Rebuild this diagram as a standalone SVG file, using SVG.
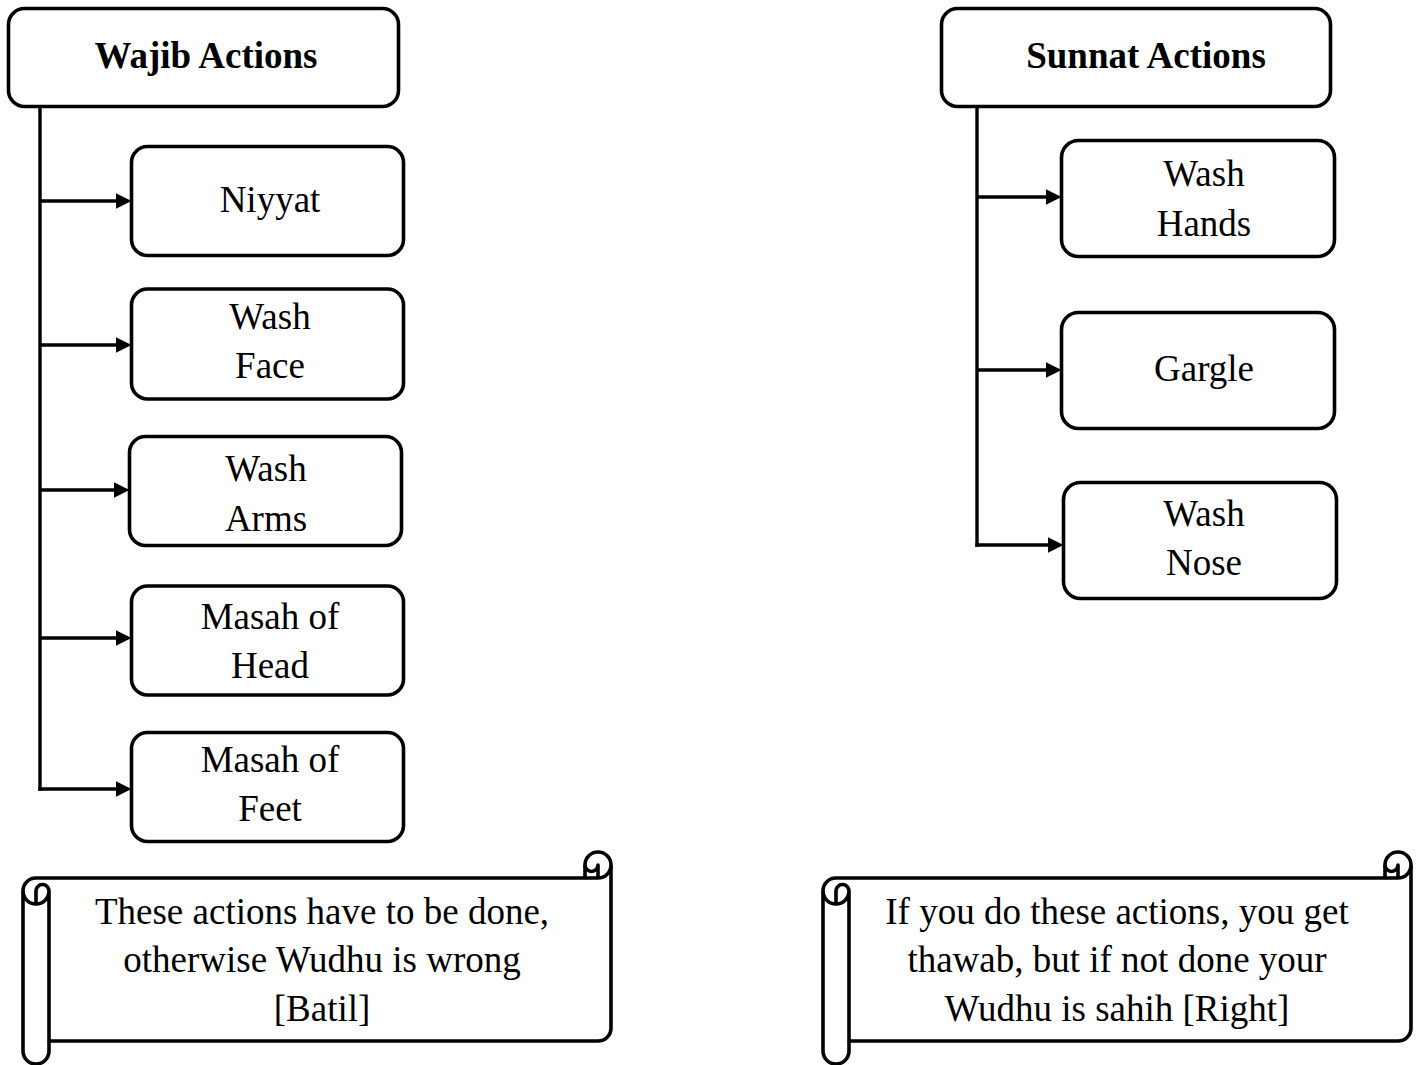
<svg xmlns="http://www.w3.org/2000/svg" width="1421" height="1065" viewBox="0 0 1421 1065">
<defs>
<style>
.box{fill:#fff;stroke:#000;stroke-width:3.6}
.t{font-family:"Liberation Serif","Times New Roman",serif;font-size:37px;fill:#000;text-anchor:middle}
.b{font-weight:bold}
.con{stroke:#000;stroke-width:3.4;fill:none}
.scroll{fill:#fff;stroke:#000;stroke-width:3.6;stroke-linejoin:round}
.sd{fill:none;stroke:#000;stroke-width:3.6;stroke-linejoin:round}
</style>
<marker id="ah" markerUnits="userSpaceOnUse" markerWidth="18" markerHeight="18" viewBox="0 0 18 18" refX="5" refY="8" orient="auto">
<path d="M0,0 L16,8 L0,16 Z" fill="#000"/>
</marker>
</defs>
<rect width="1421" height="1065" fill="#fff"/>

<g id="connectors">
<path class="con" d="M40,106.5 V790.7"/>
<path class="con" d="M40,201 H120.5" marker-end="url(#ah)"/>
<path class="con" d="M40,345 H120.5" marker-end="url(#ah)"/>
<path class="con" d="M40,490 H118.5" marker-end="url(#ah)"/>
<path class="con" d="M40,638 H120.5" marker-end="url(#ah)"/>
<path class="con" d="M38.3,789 H120.5" marker-end="url(#ah)"/>
<path class="con" d="M977,106.5 V546.7"/>
<path class="con" d="M977,197 H1050.5" marker-end="url(#ah)"/>
<path class="con" d="M977,370 H1050.5" marker-end="url(#ah)"/>
<path class="con" d="M975.3,545 H1052.5" marker-end="url(#ah)"/>
</g>

<g id="wajib">
<rect class="box" x="8.5" y="8.5" width="390" height="98" rx="16"/>
<text class="t b" x="206" y="68">Wajib Actions</text>
</g>
<g id="niyyat">
<rect class="box" x="131.5" y="146.5" width="272" height="109" rx="16"/>
<text class="t" x="270" y="212">Niyyat</text>
</g>
<g id="wash-face">
<rect class="box" x="131.5" y="289" width="272" height="110" rx="16"/>
<text class="t" x="270" y="329">Wash</text>
<text class="t" x="270" y="378">Face</text>
</g>
<g id="wash-arms">
<rect class="box" x="129.5" y="436.5" width="272" height="109" rx="16"/>
<text class="t" x="266" y="481">Wash</text>
<text class="t" x="266" y="531">Arms</text>
</g>
<g id="masah-head">
<rect class="box" x="131.5" y="586" width="272" height="109" rx="16"/>
<text class="t" x="270" y="629">Masah of</text>
<text class="t" x="270" y="678">Head</text>
</g>
<g id="masah-feet">
<rect class="box" x="131.5" y="732.5" width="272" height="109" rx="16"/>
<text class="t" x="270" y="772">Masah of</text>
<text class="t" x="270" y="821">Feet</text>
</g>

<g id="sunnat">
<rect class="box" x="941.5" y="8.5" width="389" height="98" rx="16"/>
<text class="t b" x="1146" y="68">Sunnat Actions</text>
</g>
<g id="wash-hands">
<rect class="box" x="1061.5" y="140.5" width="273" height="116" rx="17"/>
<text class="t" x="1204" y="186">Wash</text>
<text class="t" x="1204" y="236">Hands</text>
</g>
<g id="gargle">
<rect class="box" x="1061.5" y="312.5" width="273" height="116" rx="17"/>
<text class="t" x="1204" y="381">Gargle</text>
</g>
<g id="wash-nose">
<rect class="box" x="1063.5" y="482.5" width="273" height="116" rx="17"/>
<text class="t" x="1204" y="526">Wash</text>
<text class="t" x="1204" y="575">Nose</text>
</g>

<g id="scroll-wajib">
<path class="scroll" d="M23,891 A13,13 0 0 1 36,878 L585,878 L585,865 A13,13 0 0 1 611,865 L611,1028 A13,13 0 0 1 598,1041 L49,1041 L49,1051 A13,13 0 0 1 23,1051 Z"/>
<path class="sd" d="M585,878 L598,878 A13,13 0 0 0 611,865 M598,878 L598,865 A6.5,6.5 0 0 1 585,865 M36,904 L36,891 A6.5,6.5 0 0 1 49,891 A13,13 0 0 1 23,891 M49,891 L49,1041"/>
<text class="t" x="322" y="924">These actions have to be done,</text>
<text class="t" x="322" y="972">otherwise Wudhu is wrong</text>
<text class="t" x="322" y="1021">[Batil]</text>
</g>

<g id="scroll-sunnat">
<path class="scroll" d="M823,891 A13,13 0 0 1 836,878 L1385,878 L1385,865 A13,13 0 0 1 1411,865 L1411,1028 A13,13 0 0 1 1398,1041 L849,1041 L849,1051 A13,13 0 0 1 823,1051 Z"/>
<path class="sd" d="M1385,878 L1398,878 A13,13 0 0 0 1411,865 M1398,878 L1398,865 A6.5,6.5 0 0 1 1385,865 M836,904 L836,891 A6.5,6.5 0 0 1 849,891 A13,13 0 0 1 823,891 M849,891 L849,1041"/>
<text class="t" x="1117" y="924">If you do these actions, you get</text>
<text class="t" x="1117" y="972">thawab, but if not done your</text>
<text class="t" x="1117" y="1021">Wudhu is sahih [Right]</text>
</g>
</svg>
